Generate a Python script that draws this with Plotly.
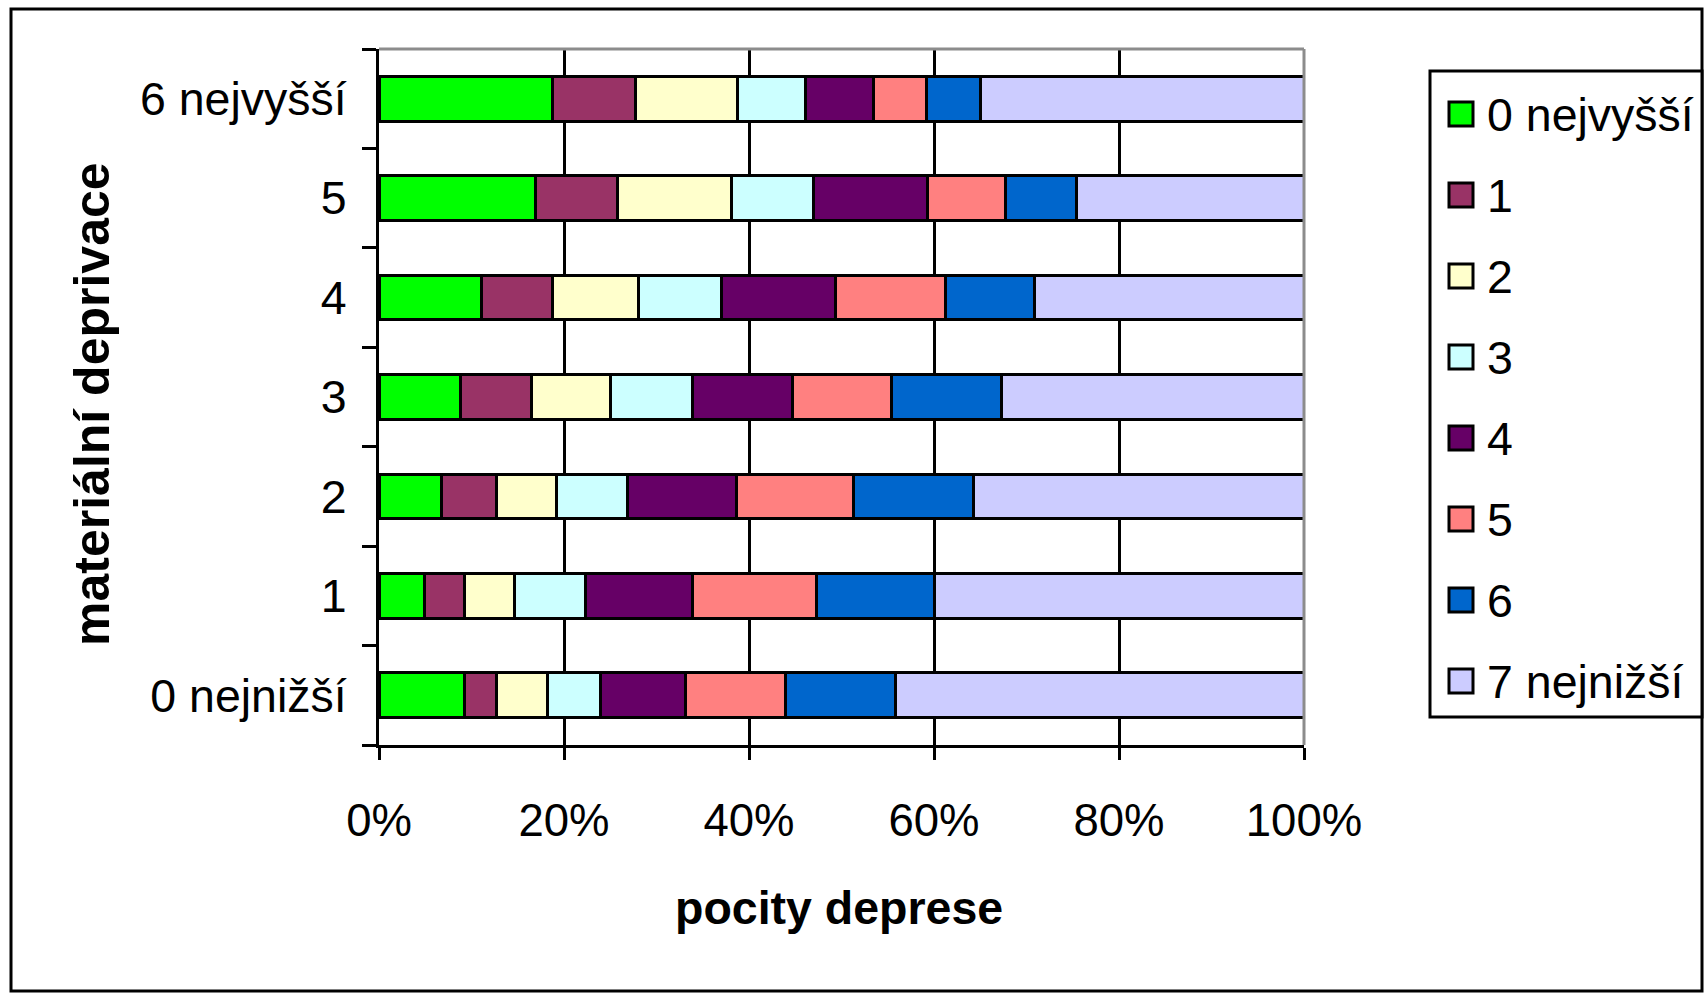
import plotly.graph_objects as go

# ---- data ----
categories = ["0 nejnižší", "1", "2", "3", "4", "5", "6 nejvyšší"]
series_names = ["0 nejvyšší", "1", "2", "3", "4", "5", "6", "7 nejnižší"]
colors = ["#00FF00", "#993366", "#FFFFCC", "#CCFFFF", "#660066", "#FF8080", "#0066CC", "#CCCCFF"]

# values per series, ordered by categories (bottom to top)
s0 = [9.2, 4.9, 6.8, 8.8, 11.1, 16.9, 18.8]
s1 = [3.5, 4.3, 5.9, 7.7, 7.7, 8.9, 8.9]
s2 = [5.5, 5.4, 6.5, 8.5, 9.2, 12.3, 11.1]
s3 = [5.7, 7.7, 7.7, 8.9, 9.0, 8.9, 7.3]
s4 = [9.2, 11.6, 11.7, 10.8, 12.3, 12.3, 7.4]
s5 = [10.8, 13.4, 12.7, 10.7, 11.9, 8.4, 5.7]
s6 = [11.9, 12.8, 13.0, 11.9, 9.7, 7.7, 5.8]
s7 = [44.2, 39.9, 35.7, 32.7, 29.1, 24.6, 35.0]
series_values = [s0, s1, s2, s3, s4, s5, s6, s7]

x_tickvals = [0, 20, 40, 60, 80, 100]
x_ticktext = ["0%", "20%", "40%", "60%", "80%", "100%"]

x_title = "pocity deprese"
y_title = "materiální deprivace"

# ---- geometry (pixels) ----
W, H = 1704, 994
L, R, T, B = 379, 1304, 49, 745
PW, PH = R - L, B - T

def px(xp):
    return (xp - L) / PW

def py(yp):
    return (B - yp) / PH

FONT = "Liberation Sans, Arial, sans-serif"

fig = go.Figure()
for name, vals, col in zip(series_names, series_values, colors):
    fig.add_trace(go.Bar(
        y=categories, x=vals, name=name, orientation="h",
        marker=dict(color=col, line=dict(color="black", width=3)),
        width=0.45, showlegend=False,
    ))

shapes = []
annotations = []

# outer chart border
shapes.append(dict(type="rect", xref="paper", yref="paper",
                   x0=px(11), x1=px(1702), y0=py(991), y1=py(9),
                   line=dict(color="black", width=3), fillcolor="rgba(0,0,0,0)", layer="below"))
# gray top and right plot border
shapes.append(dict(type="line", xref="paper", yref="paper", x0=0, x1=1, y0=1, y1=1,
                   line=dict(color="#8c8c8c", width=3)))
shapes.append(dict(type="line", xref="paper", yref="paper", x0=1, x1=1, y0=0, y1=1,
                   line=dict(color="#8c8c8c", width=3)))

# manual legend
shapes.append(dict(type="rect", xref="paper", yref="paper",
                   x0=px(1430), x1=px(1702), y0=py(717), y1=py(71),
                   line=dict(color="black", width=3), fillcolor="white"))
first_y, step = 114, 81.0
for i, (name, col) in enumerate(zip(series_names, colors)):
    cy = first_y + i * step
    shapes.append(dict(type="rect", xref="paper", yref="paper",
                       x0=px(1449), x1=px(1473), y0=py(cy + 12), y1=py(cy - 12),
                       line=dict(color="black", width=3), fillcolor=col))
    annotations.append(dict(xref="paper", yref="paper", x=px(1485), y=py(cy + 1),
                            text=name, showarrow=False, xanchor="left", yanchor="middle",
                            font=dict(family=FONT, size=46.5, color="black")))

# axis titles
annotations.append(dict(xref="paper", yref="paper", x=px(839), y=py(908), text="<b>" + x_title + "</b>",
                        showarrow=False, xanchor="center", yanchor="middle",
                        font=dict(family=FONT, size=46.5, color="black")))
annotations.append(dict(xref="paper", yref="paper", x=px(92), y=py(404), text="<b>" + y_title + "</b>",
                        showarrow=False, xanchor="center", yanchor="middle", textangle=-90,
                        font=dict(family=FONT, size=50, color="black")))

fig.update_layout(
    width=W, height=H,
    barmode="stack", barnorm="percent",
    paper_bgcolor="white", plot_bgcolor="white",
    margin=dict(l=L, r=W - R, t=T, b=H - B, pad=0),
    shapes=shapes, annotations=annotations,
    showlegend=False,
    font=dict(family=FONT, size=45, color="black"),
)
fig.update_xaxes(
    range=[0, 100], tickvals=x_tickvals, ticktext=x_ticktext,
    showgrid=True, gridcolor="black", gridwidth=2.5,
    showline=True, linecolor="black", linewidth=3,
    ticks="outside", ticklen=12, tickwidth=3, tickcolor="black",
    ticklabelstandoff=21, zeroline=False,
    tickfont=dict(family=FONT, size=45.5, color="black"),
)
fig.update_yaxes(
    type="category", categoryorder="array", categoryarray=categories,
    range=[-0.5, 6.5],
    showgrid=False, showline=True, linecolor="black", linewidth=3,
    ticks="outside", tickson="boundaries", ticklen=14, tickwidth=3, tickcolor="black",
    ticklabelstandoff=20,
    tickfont=dict(family=FONT, size=46.5, color="black"),
)

fig.write_html("out.html", config={"displayModeBar": False},
               post_script="document.body.style.margin='0';document.body.style.overflow='hidden';")
